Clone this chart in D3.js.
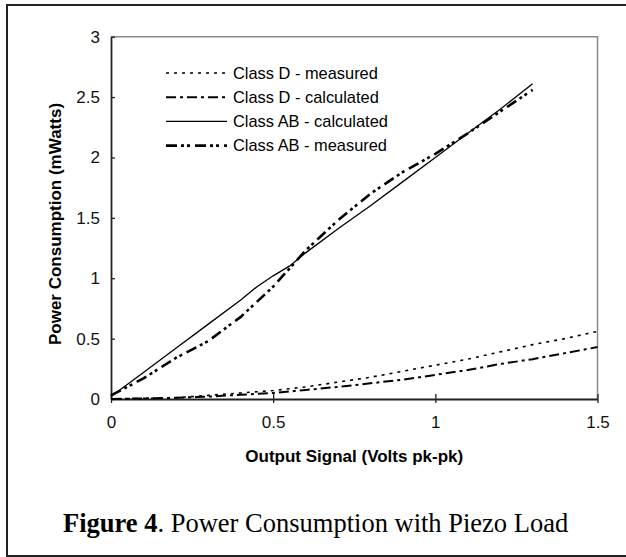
<!DOCTYPE html>
<html>
<head>
<meta charset="utf-8">
<script src="https://cdn.jsdelivr.net/npm/d3@7"></script>
<style>
  body { margin: 0; background: #fff; }
  svg { display: block; }
</style>
</head>
<body>
<svg id="chart" width="626" height="557"></svg>
<script>
// data (x = Volts pk-pk, y = mWatts)
var xTicks = [0, 0.5, 1, 1.5];
var yTicks = [0, 0.5, 1, 1.5, 2, 2.5, 3];

var dMeasuredX = [0, 0.1, 0.2, 0.3, 0.4, 0.5, 0.6, 0.7, 0.8, 0.9, 1.0, 1.1, 1.2, 1.3, 1.4, 1.5];
var dMeasuredY = [0, 0.005, 0.01, 0.03, 0.05, 0.07, 0.1, 0.14, 0.18, 0.23, 0.28, 0.33, 0.39, 0.45, 0.5, 0.56];

var dCalcX = [0, 0.1, 0.2, 0.3, 0.4, 0.5, 0.6, 0.7, 0.8, 0.9, 1.0, 1.1, 1.2, 1.3, 1.4, 1.5];
var dCalcY = [0, 0.005, 0.01, 0.02, 0.035, 0.05, 0.075, 0.1, 0.13, 0.16, 0.2, 0.24, 0.29, 0.33, 0.38, 0.43];

var abCalcX = [0, 0.1, 0.2, 0.3, 0.4, 0.45, 0.5, 0.55, 0.6, 0.7, 0.8, 0.9, 1.0, 1.1, 1.2, 1.3];
var abCalcY = [0.02, 0.22, 0.42, 0.62, 0.82, 0.93, 1.02, 1.1, 1.21, 1.41, 1.6, 1.8, 2.0, 2.2, 2.4, 2.61];

var abMeasX = [0, 0.1, 0.2, 0.3, 0.4, 0.5, 0.6, 0.7, 0.8, 0.9, 1.0, 1.1, 1.2, 1.3];
var abMeasY = [0.03, 0.17, 0.34, 0.48, 0.68, 0.93, 1.23, 1.48, 1.7, 1.88, 2.03, 2.2, 2.38, 2.56];

var seriesNames = ["Class D - measured", "Class D - calculated", "Class AB - calculated", "Class AB - measured"];

var svg = d3.select("#chart");

// outer figure frame
svg.append("rect")
    .attr("x", 7).attr("y", 5)
    .attr("width", 640).attr("height", 551)
    .attr("fill", "none")
    .attr("stroke", "#222")
    .attr("stroke-width", 2);

var x = d3.scaleLinear().domain([0, 1.5]).range([111, 597.5]);
var y = d3.scaleLinear().domain([0, 3]).range([399, 36.7]);

// plot area border (top / right in grey)
svg.append("path")
    .attr("d", "M" + x(0) + "," + y(3) + "H" + x(1.5) + "V" + y(0))
    .attr("fill", "none")
    .attr("stroke", "#8a8a8a")
    .attr("stroke-width", 1.5);

var yAxis = svg.append("g")
    .attr("transform", "translate(" + x(0) + ",0)")
    .call(d3.axisLeft(y).tickValues(yTicks).tickFormat(d3.format("")).tickSizeInner(5).tickSizeOuter(0).tickPadding(6));
yAxis.selectAll(".tick line").attr("x2", 4);

var xAxis = svg.append("g")
    .attr("transform", "translate(0," + y(0) + ")")
    .call(d3.axisBottom(x).tickValues(xTicks).tickFormat(d3.format("")).tickSizeInner(5).tickSizeOuter(0).tickPadding(12));
xAxis.selectAll(".tick line").attr("y2", 4).attr("y1", -5);

svg.selectAll(".domain").attr("stroke", "#222").attr("stroke-width", 1.8);
svg.selectAll(".tick line").attr("stroke", "#222").attr("stroke-width", 1.3);
svg.selectAll(".tick text")
    .attr("font-family", "Arial, 'Liberation Sans', sans-serif")
    .attr("font-size", 17)
    .attr("fill", "#111");

// axis titles
svg.append("text")
    .attr("transform", "translate(55,224) rotate(-90)")
    .attr("text-anchor", "middle")
    .attr("dy", "0.35em")
    .attr("font-family", "Arial, 'Liberation Sans', sans-serif")
    .attr("font-weight", "bold")
    .attr("font-size", 17)
    .text("Power Consumption (mWatts)");

svg.append("text")
    .attr("x", (x(0) + x(1.5)) / 2)
    .attr("y", 462)
    .attr("text-anchor", "middle")
    .attr("font-family", "Arial, 'Liberation Sans', sans-serif")
    .attr("font-weight", "bold")
    .attr("font-size", 17)
    .text("Output Signal (Volts pk-pk)");

// line styles
var styles = [
    {dash: "3,5", width: 1.6},
    {dash: "10,4,3,4", width: 2},
    {dash: null, width: 1.3},
    {dash: "11,4,3,3,3,5", width: 2.6}
];

var seriesData = [
    d3.zip(dMeasuredX, dMeasuredY),
    d3.zip(dCalcX, dCalcY),
    d3.zip(abCalcX, abCalcY),
    d3.zip(abMeasX, abMeasY)
];

var line = d3.line()
    .x(function(d) { return x(d[0]); })
    .y(function(d) { return y(d[1]); });

seriesData.forEach(function(data, i) {
    svg.append("path")
        .datum(data)
        .attr("d", line)
        .attr("fill", "none")
        .attr("stroke", "#000")
        .attr("stroke-width", styles[i].width)
        .attr("stroke-dasharray", styles[i].dash);
});

// legend
var legend = svg.append("g").attr("transform", "translate(166,73)");
seriesNames.forEach(function(name, i) {
    var row = legend.append("g").attr("transform", "translate(0," + (i * 24.2) + ")");
    row.append("line")
        .attr("x1", 0).attr("x2", 61)
        .attr("stroke", "#000")
        .attr("stroke-width", styles[i].width)
        .attr("stroke-dasharray", styles[i].dash);
    row.append("text")
        .attr("x", 67)
        .attr("dy", "0.35em")
        .attr("font-family", "Arial, 'Liberation Sans', sans-serif")
        .attr("font-size", 16.4)
        .text(name);
});

// caption
var caption = svg.append("text")
    .attr("x", 63)
    .attr("y", 531.5)
    .attr("font-family", "'Times New Roman', 'Liberation Serif', serif")
    .attr("font-size", 26.5);
caption.append("tspan").attr("font-weight", "bold").text("Figure 4");
caption.append("tspan").text(". Power Consumption with Piezo Load");
</script>
</body>
</html>
